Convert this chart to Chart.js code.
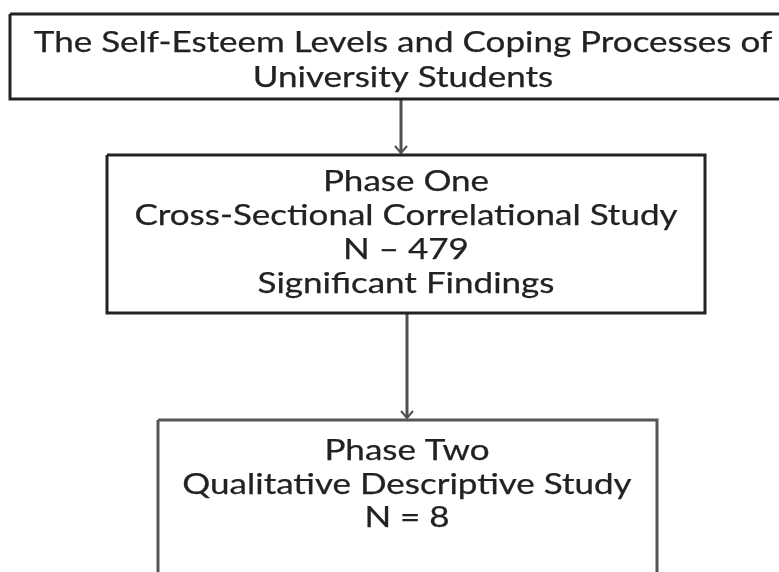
<!DOCTYPE html>
<html>
<head>
<meta charset="utf-8">
<script src="https://cdn.jsdelivr.net/npm/chart.js@4.4.1/dist/chart.umd.min.js"></script>
<style>
  html, body { margin: 0; padding: 0; background: #ffffff; }
  #wrap { width: 779px; height: 572px; }
</style>
</head>
<body>
<div id="wrap"><canvas id="c" width="779" height="572"></canvas></div>
<script>
// ---- content (text of the flow-chart nodes) ----
const topLabel = ["The Self-Esteem Levels and Coping Processes of", "University Students"];
const phaseOneLabel = ["Phase One", "Cross-Sectional Correlational Study", "N \u2013 479", "Significant Findings"];
const phaseTwoLabel = ["Phase Two", "Qualitative Descriptive Study", "N = 8"];
const nodeLabels = [topLabel, phaseOneLabel, phaseTwoLabel];
const edges = [[0, 1], [1, 2]];

// ---- layout (in scale units, kept separate from the content) ----
const layout = {
  boxes: [
    { x0: 10, x1: 800, y0: 14, y1: 99, color: "#222222", textY: [43, 78] },
    { x0: 107, x1: 705, y0: 155, y1: 313, color: "#222222", textY: [182, 216, 250, 284] },
    { x0: 158, x1: 657, y0: 420, y1: 600, color: "#555555", textY: [451, 485, 518] }
  ],
  arrowX: [401, 407],
  textCx: [403, 406, 407],
  stretchX: 1.25
};

function rectPoints(b) {
  return [
    { x: b.x0, y: b.y0 }, { x: b.x1, y: b.y0 }, { x: b.x1, y: b.y1 },
    { x: b.x0, y: b.y1 }, { x: b.x0, y: b.y0 }
  ];
}

const datasets = [];
layout.boxes.forEach((b, i) => {
  datasets.push({
    type: 'line', label: 'box' + i, data: rectPoints(b),
    borderColor: b.color, borderWidth: 3, pointRadius: 0, fill: false,
    tension: 0, clip: false, borderJoinStyle: 'miter'
  });
});
edges.forEach((e, i) => {
  const ax = layout.arrowX[i];
  const from = layout.boxes[e[0]], to = layout.boxes[e[1]];
  const tip = to.y0 - 2;
  datasets.push({
    type: 'line', label: 'edge' + i,
    data: [{ x: ax, y: from.y1 }, { x: ax, y: tip }],
    borderColor: "#505050", borderWidth: 3, pointRadius: 0, fill: false, clip: false
  });
  datasets.push({
    type: 'line', label: 'head' + i,
    data: [{ x: ax - 6, y: tip - 7 }, { x: ax, y: tip }, { x: ax + 6, y: tip - 7 }],
    borderColor: "#505050", borderWidth: 2, pointRadius: 0, fill: false, clip: false
  });
});

const textPlugin = {
  id: 'nodeText',
  afterDatasetsDraw(chart) {
    const ctx = chart.ctx;
    const xs = chart.scales.x, ys = chart.scales.y;
    nodeLabels.forEach((lines, i) => {
      const b = layout.boxes[i];
      lines.forEach((t, j) => {
        ctx.save();
        ctx.translate(xs.getPixelForValue(layout.textCx[i]), ys.getPixelForValue(b.textY[j]));
        ctx.scale(layout.stretchX, 1);
        ctx.fillStyle = "#222222";
        ctx.strokeStyle = "#222222";
        ctx.lineWidth = 0.25;
        ctx.textAlign = "center";
        ctx.textBaseline = "middle";
        ctx.font = "28px Lato";
        ctx.fillText(t, 0, 0);
        ctx.strokeText(t, 0, 0);
        ctx.restore();
      });
    });
  }
};

new Chart(document.getElementById('c'), {
  type: 'scatter',
  data: { datasets },
  options: {
    responsive: false,
    animation: false,
    layout: { padding: 0 },
    plugins: { legend: { display: false }, tooltip: { enabled: false }, title: { display: false } },
    scales: {
      x: { type: 'linear', display: false, min: 0, max: 779 },
      y: { type: 'linear', display: false, min: 0, max: 572, reverse: true }
    }
  },
  plugins: [textPlugin]
});
</script>
</body>
</html>
